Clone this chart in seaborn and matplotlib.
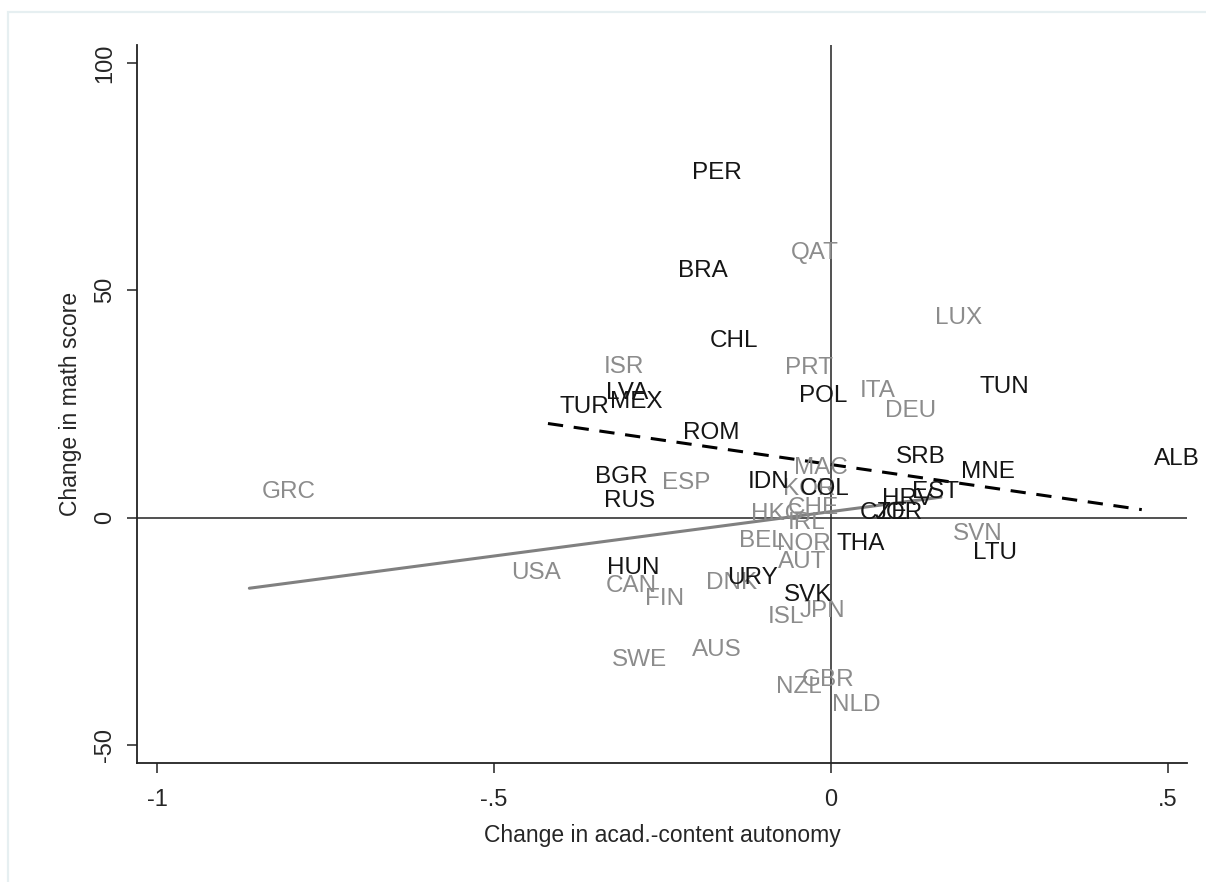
import numpy as np
import pandas as pd
import matplotlib
matplotlib.use("Agg")
import matplotlib.pyplot as plt
import seaborn as sns
from matplotlib.patches import Rectangle

# ---------------- DATA ----------------
# countries with a change in autonomy (dark) -- dashed fit
dark_names = ["PER", "BRA", "CHL", "TUN", "POL", "LVA", "MEX", "TUR", "ROM",
              "SRB", "ALB", "MNE", "BGR", "IDN", "COL", "EST", "RUS", "HRV",
              "CZE", "JOR", "THA", "LTU", "HUN", "URY", "SVK"]
dark_x = [-0.224, -0.245, -0.197, 0.203, -0.065, -0.352, -0.346, -0.420, -0.237,
          0.079, 0.461, 0.175, -0.368, -0.142, -0.064, 0.102, -0.355, 0.058,
          0.025, 0.047, -0.009, 0.193, -0.350, -0.172, -0.088]
dark_y = [75.7, 54.3, 38.9, 28.8, 26.8, 27.5, 25.5, 24.4, 18.7,
          13.4, 13.0, 10.1, 9.0, 7.9, 6.4, 5.7, 3.7, 4.0,
          1.1, 1.0, -5.9, -7.7, -11.0, -13.2, -16.9]

# OECD countries (gray) -- solid fit
gray_names = ["GRC", "ISR", "QAT", "LUX", "PRT", "ITA", "DEU", "ESP", "MAC",
              "KOR", "CHE", "HKG", "IRL", "BEL", "NOR", "SVN", "AUT", "USA",
              "CAN", "FIN", "DNK", "JPN", "ISL", "AUS", "SWE", "GBR", "NZL", "NLD"]
gray_x = [-0.863, -0.355, -0.077, 0.137, -0.086, 0.025, 0.062, -0.269, -0.073,
          -0.089, -0.082, -0.137, -0.082, -0.154, -0.098, 0.163, -0.096, -0.493,
          -0.352, -0.294, -0.203, -0.064, -0.111, -0.224, -0.343, -0.061, -0.099, -0.016]
gray_y = [5.7, 33.2, 58.3, 44.0, 33.0, 27.9, 23.5, 7.7, 11.0,
          6.4, 2.2, 0.7, -1.1, -5.1, -5.7, -3.5, -9.7, -12.1,
          -15.0, -17.8, -14.3, -20.5, -21.8, -29.0, -31.4, -35.6, -37.2, -41.1]

x_ticks = [-1, -0.5, 0, 0.5]
x_ticklabels = ["-1", "-.5", "0", ".5"]
y_ticks = [-50, 0, 50, 100]

dark = pd.DataFrame({"name": dark_names, "x": dark_x, "y": dark_y})
gray = pd.DataFrame({"name": gray_names, "x": gray_x, "y": gray_y})

DARK = "#151515"
GRAY = "#8c8c8c"

# ---------------- PLOT ----------------
sns.set_style("white")
plt.rcParams["font.family"] = ["Liberation Sans", "DejaVu Sans"]

fig = plt.figure(figsize=(12.06, 8.82), dpi=100)
ax = fig.add_axes([0.1136, 0.1349, 0.8706, 0.8141])

# outer light frame
fig.patches.append(Rectangle((8 / 1206, -0.1), 1.2, 1.1 - 12 / 882,
                             transform=fig.transFigure, fill=False,
                             edgecolor="#e6eff1", linewidth=1.6))

ax.axhline(0, color="#222222", linewidth=1.1, zorder=1)
ax.axvline(0, color="#222222", linewidth=1.1, zorder=1)

sns.regplot(data=gray, x="x", y="y", scatter=False, ci=None, truncate=True,
            line_kws={"color": "#808080", "linewidth": 2.2}, ax=ax)
sns.regplot(data=dark, x="x", y="y", scatter=False, ci=None, truncate=True,
            line_kws={"color": "black", "linewidth": 2.2, "linestyle": (0, (5, 3.5))}, ax=ax)

for df, col in [(gray, GRAY), (dark, DARK)]:
    for _, r in df.iterrows():
        ax.annotate(r["name"], (r["x"], r["y"]), xytext=(8.6, 0),
                    textcoords="offset points", ha="left", va="center",
                    fontsize=17.5, color=col, zorder=3)

ax.set_xlim(-1.0297, 0.528)
ax.set_ylim(-53.96, 103.96)
ax.set_xticks(x_ticks)
ax.set_xticklabels(x_ticklabels)
ax.set_yticks(y_ticks)
ax.set_yticklabels([str(v) for v in y_ticks], rotation=90, va="center")

ax.set_xlabel("Change in acad.-content autonomy", fontsize=16.5, labelpad=9)
ax.set_ylabel("Change in math score", fontsize=16.5, labelpad=9)

ax.tick_params(axis="both", direction="out", length=7, width=1.1,
               color="#222222", labelsize=17, pad=8, bottom=True, left=True)
ax.tick_params(axis="x", pad=12)

for s in ["top", "right"]:
    ax.spines[s].set_visible(False)
for s in ["left", "bottom"]:
    ax.spines[s].set_color("#222222")
    ax.spines[s].set_linewidth(1.3)

fig.savefig("out.png", dpi=100)
